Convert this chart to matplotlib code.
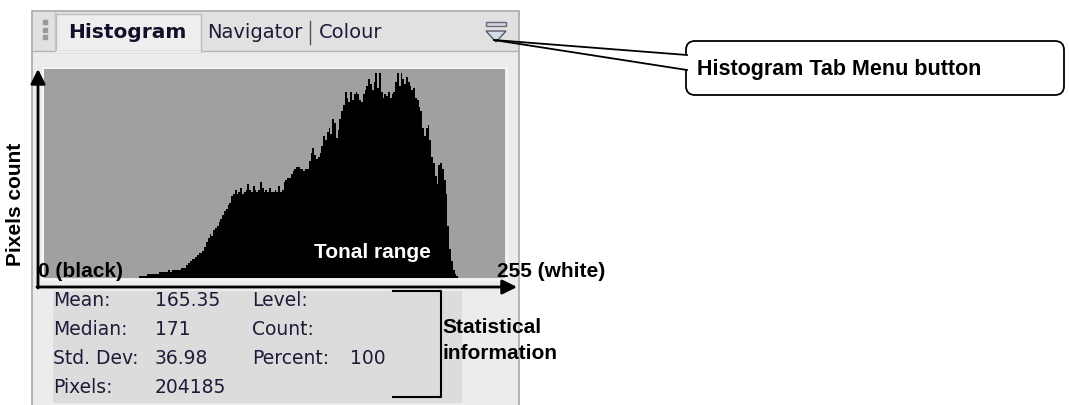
import numpy as np
import matplotlib.pyplot as plt
from matplotlib.patches import Rectangle, FancyBboxPatch, Polygon

# histogram bar heights (% of plot height) for levels 53..229, other levels are empty
first_level = 53
heights = [1, 1, 1, 1, 2, 2, 2, 2, 2, 2, 2, 3, 3, 3, 3, 3, 4, 3, 4, 4,
           4, 4, 4, 5, 5, 5, 6, 7, 8, 9, 9, 10, 11, 12, 12, 13, 15, 17, 19, 21,
           20, 23, 24, 25, 27, 28, 30, 32, 33, 35, 36, 39, 40, 42, 40, 41, 43, 40, 41, 42,
           45, 42, 41, 44, 42, 41, 42, 46, 43, 41, 42, 41, 43, 41, 41, 42, 41, 44, 41, 42,
           46, 47, 48, 48, 50, 51, 52, 53, 53, 52, 52, 51, 52, 52, 56, 60, 62, 59, 57, 58,
           60, 63, 68, 66, 70, 72, 69, 76, 74, 67, 71, 76, 80, 83, 89, 86, 84, 89, 85, 88,
           89, 88, 85, 84, 88, 90, 92, 95, 93, 90, 94, 98, 91, 98, 89, 86, 88, 87, 89, 86,
           88, 89, 94, 98, 92, 98, 95, 93, 96, 94, 92, 90, 91, 86, 85, 82, 80, 72, 68, 72,
           73, 66, 58, 55, 49, 45, 54, 55, 52, 47, 40, 25, 14, 8, 4, 2, 1]

tab_names = ['Histogram', 'Navigator', 'Colour']
stat_names = ['Mean:', 'Median:', 'Std. Dev:', 'Pixels:']
stat_values = ['165.35', '171', '36.98', '204185']
level_names = ['Level:', 'Count:', 'Percent:']
level_values = ['', '', '100']

levels = np.zeros(256)
levels[first_level:first_level + len(heights)] = heights

W, H = 1069, 406
fig = plt.figure(figsize=(W / 100, H / 100), dpi=100)
fig.patch.set_facecolor('white')


def pixel_axes(z):
    ax = fig.add_axes([0, 0, 1, 1], zorder=z)
    ax.set_xlim(0, W)
    ax.set_ylim(H, 0)
    ax.axis('off')
    ax.patch.set_alpha(0)
    return ax


ui_font = 'DejaVu Sans'
note_font = 'Liberation Sans'
ui_color = '#1c1c38'

# ---- panel chrome ----
bg = pixel_axes(0)
bg.add_patch(Rectangle((32, 12), 487, 400, fc='#ececec', ec='#a8a8a8', lw=1.2))
bg.add_patch(Rectangle((33, 13), 485, 39, fc='#e1e1e1', ec='none'))
bg.plot([33, 518], [52, 52], color='#b4b4b4', lw=1)
bg.add_patch(Rectangle((56, 15), 145, 38, fc='#eeeeee', ec='#bdbdbd', lw=1))
bg.plot([57, 200], [52.5, 52.5], color='#eeeeee', lw=1.6)
bg.plot([55, 55], [13, 52], color='#c4c4c4', lw=1)
for y in [23, 31, 38]:
    bg.plot(45, y, 's', ms=2.5, color='#9a9a9a')

bg.text(68, 33, tab_names[0], fontsize=14.5, fontweight='bold', family=ui_font,
        color='#10102a', va='center')
bg.text(207, 33, tab_names[1], fontsize=14, family=ui_font, color=ui_color, va='center')
bg.plot([310, 310], [22, 45], color='#555555', lw=1)
bg.text(319, 33, tab_names[2], fontsize=14, family=ui_font, color=ui_color, va='center')

# tab menu button
bg.add_patch(Rectangle((486, 23), 20, 4, fc='#d0d4e0', ec='#6a6a78', lw=1))
bg.add_patch(Polygon([(486, 32), (506, 32), (496, 43)], closed=True,
                     fc='#d4dcea', ec='#5a5a68', lw=1))

# frame round the histogram and stats area
bg.add_patch(Rectangle((43, 69), 464, 212, fc='none', ec='#f8f8f8', lw=1.2))
bg.add_patch(Rectangle((53, 292), 409, 112, fc='#dcdcdc', ec='none'))

row_y = [301, 330, 359, 388]
for name, val, y in zip(stat_names, stat_values, row_y):
    bg.text(53, y, name, fontsize=13.5, family=ui_font, color=ui_color, va='center')
    bg.text(155, y, val, fontsize=13.5, family=ui_font, color=ui_color, va='center')
for name, val, y in zip(level_names, level_values, row_y):
    bg.text(252, y, name, fontsize=13.5, family=ui_font, color=ui_color, va='center')
    bg.text(350, y, val, fontsize=13.5, family=ui_font, color=ui_color, va='center')

# ---- histogram ----
ax = fig.add_axes([44 / W, 1 - 279 / H, 461 / W, 209 / H], zorder=1)
ax.set_facecolor('#a0a0a0')
ax.stairs(levels, np.arange(257), fill=True, color='black')
ax.set_xlim(0, 256)
ax.set_ylim(0, 100)
ax.set_xticks([])
ax.set_yticks([])
for s in ax.spines.values():
    s.set_visible(False)

# ---- annotations ----
fg = pixel_axes(2)
arrow = dict(arrowstyle='-|>', mutation_scale=22, lw=2, color='black', shrinkA=0, shrinkB=0)
fg.annotate('', xy=(38, 70), xytext=(38, 289), arrowprops=arrow)
fg.annotate('', xy=(517, 288), xytext=(37, 288), arrowprops=arrow)

bold = dict(family=note_font, fontweight='bold', fontsize=15)
fg.text(38, 277, '0 (black)', ha='left', va='baseline', color='black', **bold)
fg.text(497, 277, '255 (white)', ha='left', va='baseline', color='black', **bold)
fg.text(372, 258, 'Tonal range', ha='center', va='baseline', color='white', **bold)
fg.text(16, 204, 'Pixels count', ha='center', va='center', rotation=90, color='black', **bold)
fg.text(442, 333, 'Statistical', ha='left', va='baseline', color='black', **bold)
fg.text(442, 359, 'information', ha='left', va='baseline', color='black', **bold)

# bracket round the statistics
fg.plot([393, 441, 441, 393], [292, 292, 398, 398], color='black', lw=1.5)

# callout for the tab menu button
fg.add_patch(FancyBboxPatch((688, 44), 374, 50, boxstyle='round,pad=2,rounding_size=9',
                            fc='white', ec='black', lw=1.3))
fg.add_patch(Polygon([(494, 41), (688.8, 56), (688.8, 71)], closed=True, fc='white', ec='none'))
fg.plot([494, 687], [41, 56], color='black', lw=1.3)
fg.plot([494, 687], [41, 71], color='black', lw=1.3)
fg.text(697, 69, 'Histogram Tab Menu button', ha='left', va='center', color='black',
        family=note_font, fontweight='bold', fontsize=15.5)

fig.savefig('out.png', dpi=100)
